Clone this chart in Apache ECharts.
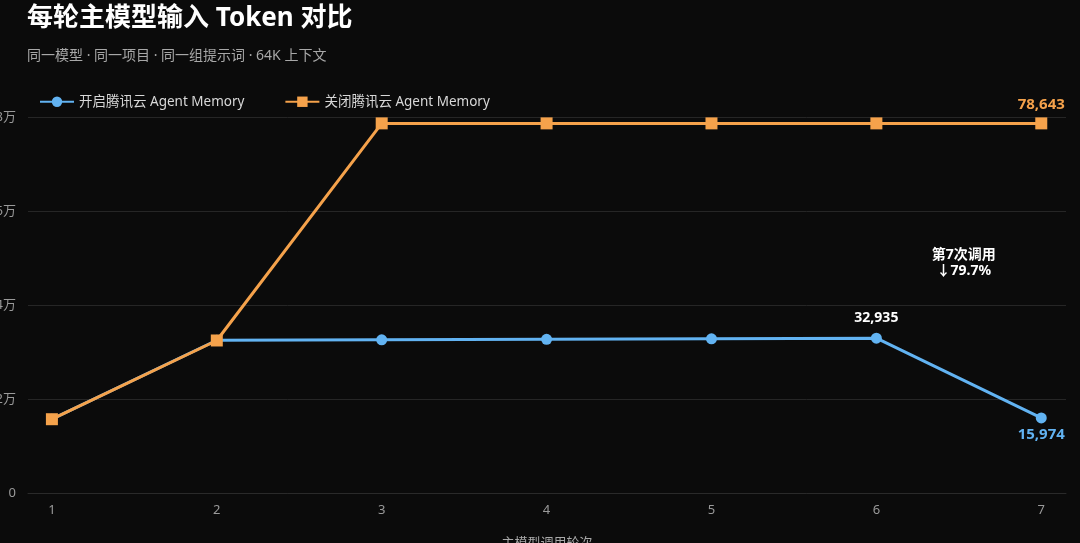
<!DOCTYPE html>
<html><head><meta charset="utf-8">
<script src="https://cdn.jsdelivr.net/npm/echarts@6/dist/echarts.min.js"></script>
<style>html,body{margin:0;padding:0;background:#0b0b0b;}#c{width:1080px;height:543px;}</style>
</head><body><div id="c"></div>
<script>
const rounds = [1, 2, 3, 4, 5, 6, 7];
const withMemory = [15700, 32500, 32600, 32700, 32800, 32935, 15974];
const withoutMemory = [15700, 32450, 78643, 78643, 78643, 78643, 78643];
const yTicks = [0, 20000, 40000, 60000, 80000];
const seriesNames = ['开启腾讯云 Agent Memory', '关闭腾讯云 Agent Memory'];
const noteText = '第7次调用\n↓79.7%';
const notePos = [6.53, 49000];

const blue = '#62b3f2', orange = '#f5a24b';
const chart = echarts.init(document.getElementById('c'));
const font = '"Noto Sans","Noto Sans CJK SC",sans-serif';
chart.setOption({
  backgroundColor: '#0b0b0b',
  textStyle: {fontFamily: font},
  title: {
    text: '每轮主模型输入 Token 对比',
    subtext: '同一模型 · 同一项目 · 同一组提示词 · 64K 上下文',
    left: 22, top: 1,
    textStyle: {color: '#ffffff', fontSize: 26, fontWeight: 'bold', fontFamily: font},
    subtextStyle: {color: '#a8a8a8', fontSize: 14, fontFamily: font},
    itemGap: 17
  },
  legend: {
    top: 90, left: 34, itemGap: 40, itemWidth: 34, itemHeight: 13,
    textStyle: {color: '#d8d8d8', fontSize: 13.5, fontFamily: font},
    data: [seriesNames[0], seriesNames[1]]
  },
  grid: {left: 28, right: 14, top: 117, bottom: 50, outerBoundsMode: 'none', containLabel: false},
  xAxis: {
    type: 'value', min: 0.855, max: 7.15,
    name: '主模型调用轮次', nameLocation: 'middle', nameGap: 44,
    nameTextStyle: {color: '#a8a8a8', fontSize: 13},
    axisLine: {show: true, lineStyle: {color: '#2a2a2a'}},
    axisTick: {show: false},
    splitLine: {show: false},
    axisLabel: {color: '#9a9a9a', fontSize: 13, margin: 11,
      formatter: v => (Math.abs(v - Math.round(v)) < 1e-6 && rounds.includes(Math.round(v))) ? String(Math.round(v)) : ''}
  },
  yAxis: {
    type: 'value', min: yTicks[0], max: yTicks[yTicks.length - 1], interval: yTicks[1] - yTicks[0],
    axisLine: {show: false}, axisTick: {show: false},
    splitLine: {lineStyle: {color: '#262626'}},
    axisLabel: {color: '#9a9a9a', fontSize: 13, margin: 12,
      formatter: v => v === 0 ? '0' : (v / 10000) + '万'}
  },
  series: [
    {
      name: seriesNames[0], type: 'line', z: 2,
      data: rounds.map((r, i) => {
        const d = {value: [r, withMemory[i]]};
        if (i === 5) d.label = {show: true, position: 'top', distance: 8, color: '#ffffff', fontSize: 14, fontWeight: 'bold'};
        if (i === 6) d.label = {show: true, position: 'bottom', distance: 4, color: blue, fontSize: 15, fontWeight: 'bold'};
        return d;
      }),
      symbol: 'circle', symbolSize: 11,
      lineStyle: {color: blue, width: 3}, itemStyle: {color: blue},
      label: {show: false, formatter: p => p.value[1].toLocaleString('en-US')},
      labelLayout: {hideOverlap: false},
      markPoint: {
        symbol: 'circle', symbolSize: 1, itemStyle: {color: 'transparent'},
        label: {show: true, color: '#ffffff', fontWeight: 'bold', fontSize: 14, lineHeight: 16, formatter: () => noteText},
        data: [{coord: notePos}]
      }
    },
    {
      name: seriesNames[1], type: 'line', z: 3,
      data: rounds.map((r, i) => [r, withoutMemory[i]]),
      symbol: 'rect', symbolSize: 12,
      lineStyle: {color: orange, width: 3}, itemStyle: {color: orange},
      label: {show: true, position: 'top', distance: 5, color: orange, fontWeight: 'bold', fontSize: 15,
        formatter: p => p.dataIndex === 6 ? p.value[1].toLocaleString('en-US') : ''}
    }
  ]
});
</script></body></html>
